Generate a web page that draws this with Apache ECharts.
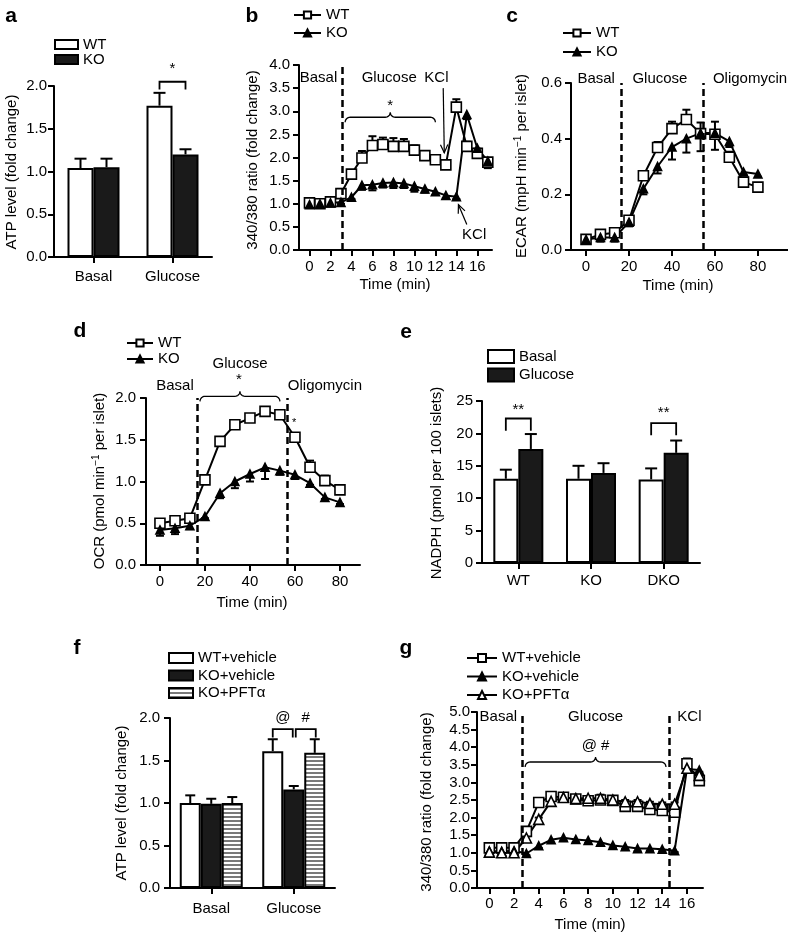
<!DOCTYPE html>
<html><head><meta charset="utf-8">
<script src="https://cdn.jsdelivr.net/npm/echarts@6/dist/echarts.min.js"></script>
<style>html,body{margin:0;padding:0;background:#fff}#c{width:788px;height:935px}</style>
</head><body><div id="c"></div>
<script>
// ================= DATA =================
// panel a
const aCats = ['Basal', 'Glucose'];
const aWT = [1.04, 1.77];
const aWTerr = [0.11, 0.15];
const aKO = [1.05, 1.20];
const aKOerr = [0.10, 0.06];
// panel b
const bTime = [0,1,2,3,4,5,6,7,8,9,10,11,12,13,14,15,16,17];
const bWT = [1.02,1.00,1.04,1.22,1.64,1.99,2.26,2.28,2.24,2.24,2.16,2.04,1.95,1.84,3.09,2.24,2.09,1.90];
const bWTerr = [0.04,0.03,0.03,0.10,0.08,0.15,0.20,0.15,0.18,0.16,0.10,0.08,0.10,0.07,0.17,0.10,0.10,0.08];
const bKO = [0.98,1.00,1.02,1.03,1.14,1.40,1.41,1.45,1.46,1.44,1.38,1.32,1.26,1.18,1.15,2.93,2.20,1.92];
const bKOerr = [-0.04,-0.03,-0.03,-0.03,-0.04,-0.10,-0.12,-0.10,-0.12,-0.10,-0.12,-0.08,-0.07,-0.06,-0.05,-0.10,-0.08,-0.15];
const bTicks = [0,2,4,6,8,10,12,14,16];
// panel c
const cTime = [0,6.7,13.3,20,26.7,33.3,40,46.7,53.3,60,66.7,73.3,80];
const cWT = [0.038,0.056,0.062,0.107,0.267,0.368,0.436,0.469,0.418,0.416,0.333,0.244,0.226];
const cWTerr = [0.005,0.01,0.01,0.01,0.015,0.02,0.025,0.035,0.04,0.045,0.02,0.01,0.01];
const cKO = [0.038,0.045,0.045,0.100,0.220,0.300,0.370,0.400,0.420,0.420,0.390,0.280,0.273];
const cKOerr = [-0.005,-0.015,-0.015,-0.015,-0.02,-0.025,-0.045,-0.05,-0.065,-0.06,-0.02,-0.01,-0.01];
const cTicks = [0,20,40,60,80];
// panel d
const dTime = [0,6.7,13.3,20,26.7,33.3,40,46.7,53.3,60,66.7,73.3,80];
const dWT = [0.50,0.53,0.56,1.02,1.48,1.68,1.76,1.84,1.80,1.53,1.17,1.01,0.90];
const dWTerr = [0.02,0.02,0.02,0.02,0.02,0.02,0.02,0.02,0.02,0.05,0.08,0.06,0.03];
const dKO = [0.42,0.44,0.47,0.58,0.86,1.00,1.09,1.17,1.13,1.08,0.98,0.81,0.75];
const dKOerr = [-0.07,-0.07,-0.04,-0.02,-0.06,-0.08,-0.09,-0.14,-0.05,-0.05,-0.02,-0.02,-0.02];
const dTicks = [0,20,40,60,80];
// panel e
const eCats = ['WT', 'KO', 'DKO'];
const eBasal = [13.0, 13.0, 12.9];
const eBasalErr = [1.4, 2.0, 1.7];
const eGlu = [17.6, 13.9, 17.0];
const eGluErr = [2.3, 1.5, 1.9];
// panel f
const fCats = ['Basal', 'Glucose'];
const fWT = [1.00, 1.61];
const fWTerr = [0.09, 0.14];
const fKO = [0.99, 1.16];
const fKOerr = [0.06, 0.04];
const fPFT = [1.00, 1.59];
const fPFTerr = [0.07, 0.16];
// panel g
const gTime = [0,1,2,3,4,5,6,7,8,9,10,11,12,13,14,15,16,17];
const gWT = [1.14,1.14,1.14,1.61,2.43,2.60,2.58,2.53,2.48,2.50,2.49,2.32,2.32,2.23,2.20,2.15,3.53,3.05];
const gWTerr = [0.10,0.12,0.10,0.10,0.05,0.05,0.04,0.08,0.08,0.15,0.05,0.05,0.05,0.05,0.05,0.05,0.15,0.05];
const gKOv = [1.05,1.04,1.06,0.98,1.20,1.37,1.43,1.38,1.35,1.30,1.21,1.17,1.12,1.12,1.10,1.06,3.38,3.35];
const gKOverr = [-0.08,-0.08,-0.08,-0.05,-0.06,-0.08,-0.08,-0.08,-0.08,-0.10,-0.06,-0.06,-0.08,-0.06,-0.06,-0.04,-0.10,-0.10];
const gPFT = [1.02,1.00,1.00,1.42,1.95,2.46,2.57,2.54,2.55,2.55,2.50,2.45,2.45,2.40,2.38,2.38,3.40,3.20];
const gPFTerr = [0.05,0.05,0.05,0.05,0.05,0.05,0.05,0.05,0.05,0.05,0.05,0.05,0.05,0.05,0.05,0.05,0.10,0.10];
const gTicks = [0,2,4,6,8,10,12,14,16];

// ================= STYLE HELPERS =================
const F = '"Liberation Sans", Arial, Helvetica, sans-serif';
const FS = 15;

const pc = document.createElement('canvas');
pc.width = 4; pc.height = 4;
const pctx = pc.getContext('2d');
pctx.fillStyle = '#fff'; pctx.fillRect(0, 0, 4, 4);
pctx.fillStyle = '#7a7a7a'; pctx.fillRect(0, 0, 4, 2);
const stripe = { image: pc, repeat: 'repeat' };

function errRender(params, api) {
  const x = api.value(0), y = api.value(1), e = api.value(2), off = api.value(3), cap = api.value(4);
  const a = api.coord([x, y]), b = api.coord([x, y + e]);
  const cx = a[0] + off;
  const st = { stroke: '#000', lineWidth: 2 };
  return { type: 'group', children: [
    { type: 'line', shape: { x1: cx, y1: a[1], x2: cx, y2: b[1] }, style: st },
    { type: 'line', shape: { x1: cx - cap / 2, y1: b[1], x2: cx + cap / 2, y2: b[1] }, style: st }
  ] };
}
function errS(gi, xs, ys, es, off, cap) {
  return { type: 'custom', xAxisIndex: gi, yAxisIndex: gi, renderItem: errRender, silent: true, z: 2,
    encode: { x: 0, y: 1 },
    data: xs.map((x, i) => [x, ys[i], es[i], off, cap]) };
}
function lineS(name, gi, xs, ys, sym, fill, size) {
  return { type: 'line', name, xAxisIndex: gi, yAxisIndex: gi, data: xs.map((x, i) => [x, ys[i]]),
    symbol: sym, symbolSize: size, showSymbol: true, showAllSymbol: true,
    lineStyle: { color: '#000', width: 2 },
    itemStyle: { color: fill, borderColor: '#000', borderWidth: 1.6 }, z: 3 };
}
function barS(name, gi, vals, color, w) {
  return { type: 'bar', name, xAxisIndex: gi, yAxisIndex: gi, data: vals, barWidth: w, barGap: '0%',
    itemStyle: { color, borderColor: '#000', borderWidth: 2 }, z: 2 };
}
function dashed(vals) {
  return { silent: true, symbol: ['none', 'none'], label: { show: false },
    lineStyle: { color: '#000', type: [7, 4], width: 2.5 }, data: vals.map(v => ({ xAxis: v })) };
}
const axLine = { show: true, onZero: false, lineStyle: { color: '#000', width: 2 } };
const axTick = { show: true, length: 6, lineStyle: { color: '#000', width: 2 } };
function yVal(gi, min, max, interval, dec, margin) {
  return { gridIndex: gi, type: 'value', min, max, interval, axisLine: axLine, axisTick: axTick,
    axisLabel: { color: '#000', fontSize: FS, fontFamily: F, margin, formatter: v => v.toFixed(dec) },
    splitLine: { show: false } };
}
function xVal(gi, min, max, ticks, margin) {
  return { gridIndex: gi, type: 'value', min, max, axisLine: axLine,
    axisTick: Object.assign({ customValues: ticks }, axTick),
    axisLabel: { customValues: ticks, color: '#000', fontSize: FS, fontFamily: F, margin },
    splitLine: { show: false } };
}
function xCat(gi, cats, margin) {
  return { gridIndex: gi, type: 'category', data: cats, axisLine: axLine,
    axisTick: Object.assign({ alignWithLabel: true }, axTick),
    axisLabel: { color: '#000', fontSize: FS, fontFamily: F, margin } };
}
function leg(names, left, top, iw, ih, gap, icon) {
  const l = { data: names, left, top, orient: 'vertical', itemWidth: iw, itemHeight: ih, itemGap: gap,
    selectedMode: false, padding: 0, formatter: n => n.split('@')[0],
    textStyle: { fontSize: FS, fontFamily: F, color: '#000', lineHeight: 15 } };
  if (icon) l.icon = icon;
  return l;
}

// ================= OPTION =================
const bW_WT = lineS('WT@b', 1, bTime, bWT, 'rect', '#fff', 10);
bW_WT.markLine = dashed([3.1]);
const cW_WT = lineS('WT@c', 2, cTime, cWT, 'rect', '#fff', 10);
cW_WT.markLine = dashed([16.3, 54.4]);
const dW_WT = lineS('WT@d', 3, dTime, dWT, 'rect', '#fff', 10);
dW_WT.markLine = dashed([16.4, 56.4]);
const gW_WT = lineS('WT+vehicle@g', 6, gTime, gWT, 'rect', '#fff', 10);
gW_WT.markLine = dashed([2.67, 14.6]);

const option = {
  animation: false,
  backgroundColor: '#fff',
  textStyle: { fontFamily: F },
  grid: [
    { left: 54, top: 86, width: 158, height: 171 },
    { left: 299, top: 65, width: 193, height: 185 },
    { left: 571, top: 83, width: 217, height: 167 },
    { left: 146, top: 398, width: 214, height: 167 },
    { left: 482, top: 401, width: 218, height: 162 },
    { left: 170, top: 718, width: 165, height: 170 },
    { left: 477, top: 712, width: 226, height: 176 }
  ],
  xAxis: [
    xCat(0, aCats, 12),
    xVal(1, -1, 17.4, bTicks, 9),
    xVal(2, -7, 94, cTicks, 9),
    xVal(3, -6.2, 88.9, dTicks, 9),
    xCat(4, eCats, 10),
    xCat(5, fCats, 13),
    xVal(6, -1, 17.3, gTicks, 8)
  ],
  yAxis: [
    yVal(0, 0, 2, 0.5, 1, 7),
    yVal(1, 0, 4, 0.5, 1, 9),
    yVal(2, 0, 0.6, 0.2, 1, 9),
    yVal(3, 0, 2, 0.5, 1, 10),
    yVal(4, 0, 25, 5, 0, 9),
    yVal(5, 0, 2, 0.5, 1, 10),
    yVal(6, 0, 5, 0.5, 1, 7)
  ],
  legend: [
    leg(['WT@a', 'KO@a'], 54, 37, 23, 9, 0, 'rect'),
    leg(['WT@b', 'KO@b'], 293, 7.5, 27, 9, 3),
    leg(['WT@c', 'KO@c'], 562, 25.5, 28, 9, 4),
    leg(['WT@d', 'KO@d'], 126, 335.5, 26, 9, 1),
    leg(['Basal@e', 'Glucose@e'], 487, 349, 26, 13, 3.5, 'rect'),
    leg(['WT+vehicle@f', 'KO+vehicle@f', 'KO+PFTα@f'], 168, 650.5, 24, 10, 2.5, 'rect'),
    leg(['WT+vehicle@g', 'KO+vehicle@g', 'KO+PFTα@g'], 466, 650.5, 30, 10, 3.5)
  ],
  series: [
    // a
    barS('WT@a', 0, aWT, '#fff', 26),
    barS('KO@a', 0, aKO, '#1a1a1a', 26),
    errS(0, [0, 1], aWT, aWTerr, -13, 12),
    errS(0, [0, 1], aKO, aKOerr, 13, 12),
    // b
    errS(1, bTime, bWT, bWTerr, 0, 8),
    errS(1, bTime, bKO, bKOerr, 0, 8),
    bW_WT,
    lineS('KO@b', 1, bTime, bKO, 'triangle', '#000', 8),
    // c
    errS(2, cTime, cWT, cWTerr, 0, 8),
    errS(2, cTime, cKO, cKOerr, 0, 8),
    cW_WT,
    lineS('KO@c', 2, cTime, cKO, 'triangle', '#000', 8),
    // d
    errS(3, dTime, dWT, dWTerr, 0, 8),
    errS(3, dTime, dKO, dKOerr, 0, 8),
    dW_WT,
    lineS('KO@d', 3, dTime, dKO, 'triangle', '#000', 8),
    // e
    barS('Basal@e', 4, eBasal, '#fff', 25),
    barS('Glucose@e', 4, eGlu, '#1a1a1a', 25),
    errS(4, [0, 1, 2], eBasal, eBasalErr, -12.5, 12),
    errS(4, [0, 1, 2], eGlu, eGluErr, 12.5, 12),
    // f
    barS('WT+vehicle@f', 5, fWT, '#fff', 21),
    barS('KO+vehicle@f', 5, fKO, '#1a1a1a', 21),
    barS('KO+PFTα@f', 5, fPFT, stripe, 21),
    errS(5, [0, 1], fWT, fWTerr, -21, 10),
    errS(5, [0, 1], fKO, fKOerr, 0, 10),
    errS(5, [0, 1], fPFT, fPFTerr, 21, 10),
    // g
    errS(6, gTime, gWT, gWTerr, 0, 8),
    errS(6, gTime, gKOv, gKOverr, 0, 8),
    errS(6, gTime, gPFT, gPFTerr, 0, 8),
    gW_WT,
    lineS('KO+vehicle@g', 6, gTime, gKOv, 'triangle', '#000', 8),
    lineS('KO+PFTα@g', 6, gTime, gPFT, 'triangle', '#fff', 10)
  ]
};

const chart = echarts.init(document.getElementById('c'), null, { renderer: 'canvas', width: 788, height: 935 });
chart.setOption(option);

// ================= ANNOTATIONS =================
function P(g, x, y) { return chart.convertToPixel({ gridIndex: g }, [x, y]); }
const G = [];
function txt(x, y, text, size, extra) {
  G.push(Object.assign({ type: 'text', x, y, z: 10, style: { text, fontSize: size || FS, fontFamily: F, fill: '#000', align: 'center', verticalAlign: 'middle' } }, extra || {}));
}
function dtxt(g, x, y, text, size) { const p = P(g, x, y); txt(p[0], p[1], text, size); }
function vtxt(x, y, text, rich) {
  const el = { type: 'text', x, y, rotation: Math.PI / 2, z: 10,
    style: { text, fontSize: FS, fontFamily: F, fill: '#000', align: 'center', verticalAlign: 'middle' } };
  if (rich) el.style.rich = { n: { fontSize: FS, fontFamily: F, fill: '#000', lineHeight: 17 }, s: { fontSize: 10, fontFamily: F, fill: '#000', verticalAlign: 'top' } };
  G.push(el);
}
function poly(points, w) { G.push({ type: 'polyline', z: 10, shape: { points }, style: { stroke: '#000', lineWidth: w || 1.5, fill: null } }); }
function brace(x1, x2, y, h) {
  const xm = (x1 + x2) / 2, pts = [];
  const arc = (cx, cy, t0, t1) => { for (let i = 0; i <= 8; i++) { const t = t0 + (t1 - t0) * i / 8; pts.push([cx + h * Math.cos(t), cy + h * Math.sin(t)]); } };
  arc(x1 + h, y + h, Math.PI, 1.5 * Math.PI);
  arc(xm - h, y - h, 0.5 * Math.PI, 0);
  arc(xm + h, y - h, Math.PI, 0.5 * Math.PI);
  arc(x2 - h, y + h, 1.5 * Math.PI, 2 * Math.PI);
  poly(pts, 1.3);
}
function arrow(p0, p1) {
  const a = Math.atan2(p1[1] - p0[1], p1[0] - p0[0]), len = 9, ang = 0.42;
  poly([p0, p1], 1.2);
  poly([[p1[0] - len * Math.cos(a - ang), p1[1] - len * Math.sin(a - ang)], p1, [p1[0] - len * Math.cos(a + ang), p1[1] - len * Math.sin(a + ang)]], 1.2);
}
function bracketBar(g, cat, offL, offR, yTop, yL, yR) {
  const t = P(g, cat, yTop), l = P(g, cat, yL), r = P(g, cat, yR);
  poly([[t[0] + offL, l[1]], [t[0] + offL, t[1]], [t[0] + offR, t[1]], [t[0] + offR, r[1]]], 1.8);
}

// panel letters
[['a', 11, 16], ['b', 252, 16], ['c', 512, 16], ['d', 80, 331], ['e', 406, 332], ['f', 77, 648], ['g', 406, 648]]
  .forEach(l => G.push({ type: 'text', x: l[1], y: l[2], z: 10, style: { text: l[0], fontSize: 21, fontWeight: 'bold', fontFamily: F, fill: '#000', align: 'center', verticalAlign: 'middle' } }));

// y-axis names
vtxt(12, 172, 'ATP level (fold change)');
vtxt(253, 160, '340/380 ratio (fold change)');
vtxt(522, 166, '{n|ECAR (mpH min}{s|−1}{n| per islet)}', true);
vtxt(100, 481, '{n|OCR (pmol min}{s|−1}{n| per islet)}', true);
vtxt(437, 483, 'NADPH (pmol per 100 islets)');
vtxt(122, 803, 'ATP level (fold change)');
vtxt(427, 802, '340/380 ratio (fold change)');
// x-axis names
txt(395, 285, 'Time (min)');
txt(678, 286, 'Time (min)');
txt(252, 603, 'Time (min)');
txt(590, 925, 'Time (min)');

// panel a
bracketBar(0, 1, -13, 13, 2.05, 1.96, 1.96);
dtxt(0, 1, 2.2, '*');
// panel b
dtxt(1, 0.86, 3.72, 'Basal');
dtxt(1, 7.6, 3.72, 'Glucose');
dtxt(1, 12.1, 3.72, 'KCl');
(function () {
  const p1 = P(1, 3.4, 2.87), p2 = P(1, 12.0, 2.87);
  brace(p1[0], p2[0], p1[1], 5);
  dtxt(1, 7.7, 3.12, '*');
  arrow(P(1, 12.75, 3.5), P(1, 12.85, 2.1));
  dtxt(1, 15.7, 0.33, 'KCl');
  arrow(P(1, 15.0, 0.55), P(1, 14.2, 0.98));
})();
// panel c
dtxt(2, 4.7, 0.615, 'Basal');
dtxt(2, 34.4, 0.615, 'Glucose');
dtxt(2, 76.3, 0.615, 'Oligomycin');
// panel d
dtxt(3, 6.7, 2.15, 'Basal');
dtxt(3, 35.6, 2.41, 'Glucose');
dtxt(3, 73.3, 2.15, 'Oligomycin');
(function () {
  const p1 = P(3, 17.8, 2.02), p2 = P(3, 53.3, 2.02);
  brace(p1[0], p2[0], p1[1], 5);
  dtxt(3, 35.1, 2.22, '*');
  dtxt(3, 59.6, 1.70, '*', 11);
})();
// panel e
bracketBar(4, 0, -12.5, 12.5, 22.3, 20.4, 20.4);
dtxt(4, 0, 23.7, '**');
bracketBar(4, 2, -12.5, 12.5, 21.6, 19.7, 19.7);
dtxt(4, 2, 23.1, '**');
// panel f
bracketBar(5, 1, -21, -1, 1.87, 1.77, 1.77);
bracketBar(5, 1, 2, 22, 1.87, 1.77, 1.77);
(function () { const p = P(5, 1, 2.0); txt(p[0] - 11, p[1], '@'); txt(p[0] + 12, p[1], '#'); })();
// panel g
dtxt(6, 0.73, 4.86, 'Basal');
dtxt(6, 8.6, 4.86, 'Glucose');
dtxt(6, 16.2, 4.86, 'KCl');
(function () {
  const p1 = P(6, 2.9, 3.58), p2 = P(6, 14.3, 3.58);
  brace(p1[0], p2[0], p1[1], 5);
  dtxt(6, 8.6, 4.03, '@ #');
})();

chart.setOption({ graphic: G });
</script>
</body></html>
